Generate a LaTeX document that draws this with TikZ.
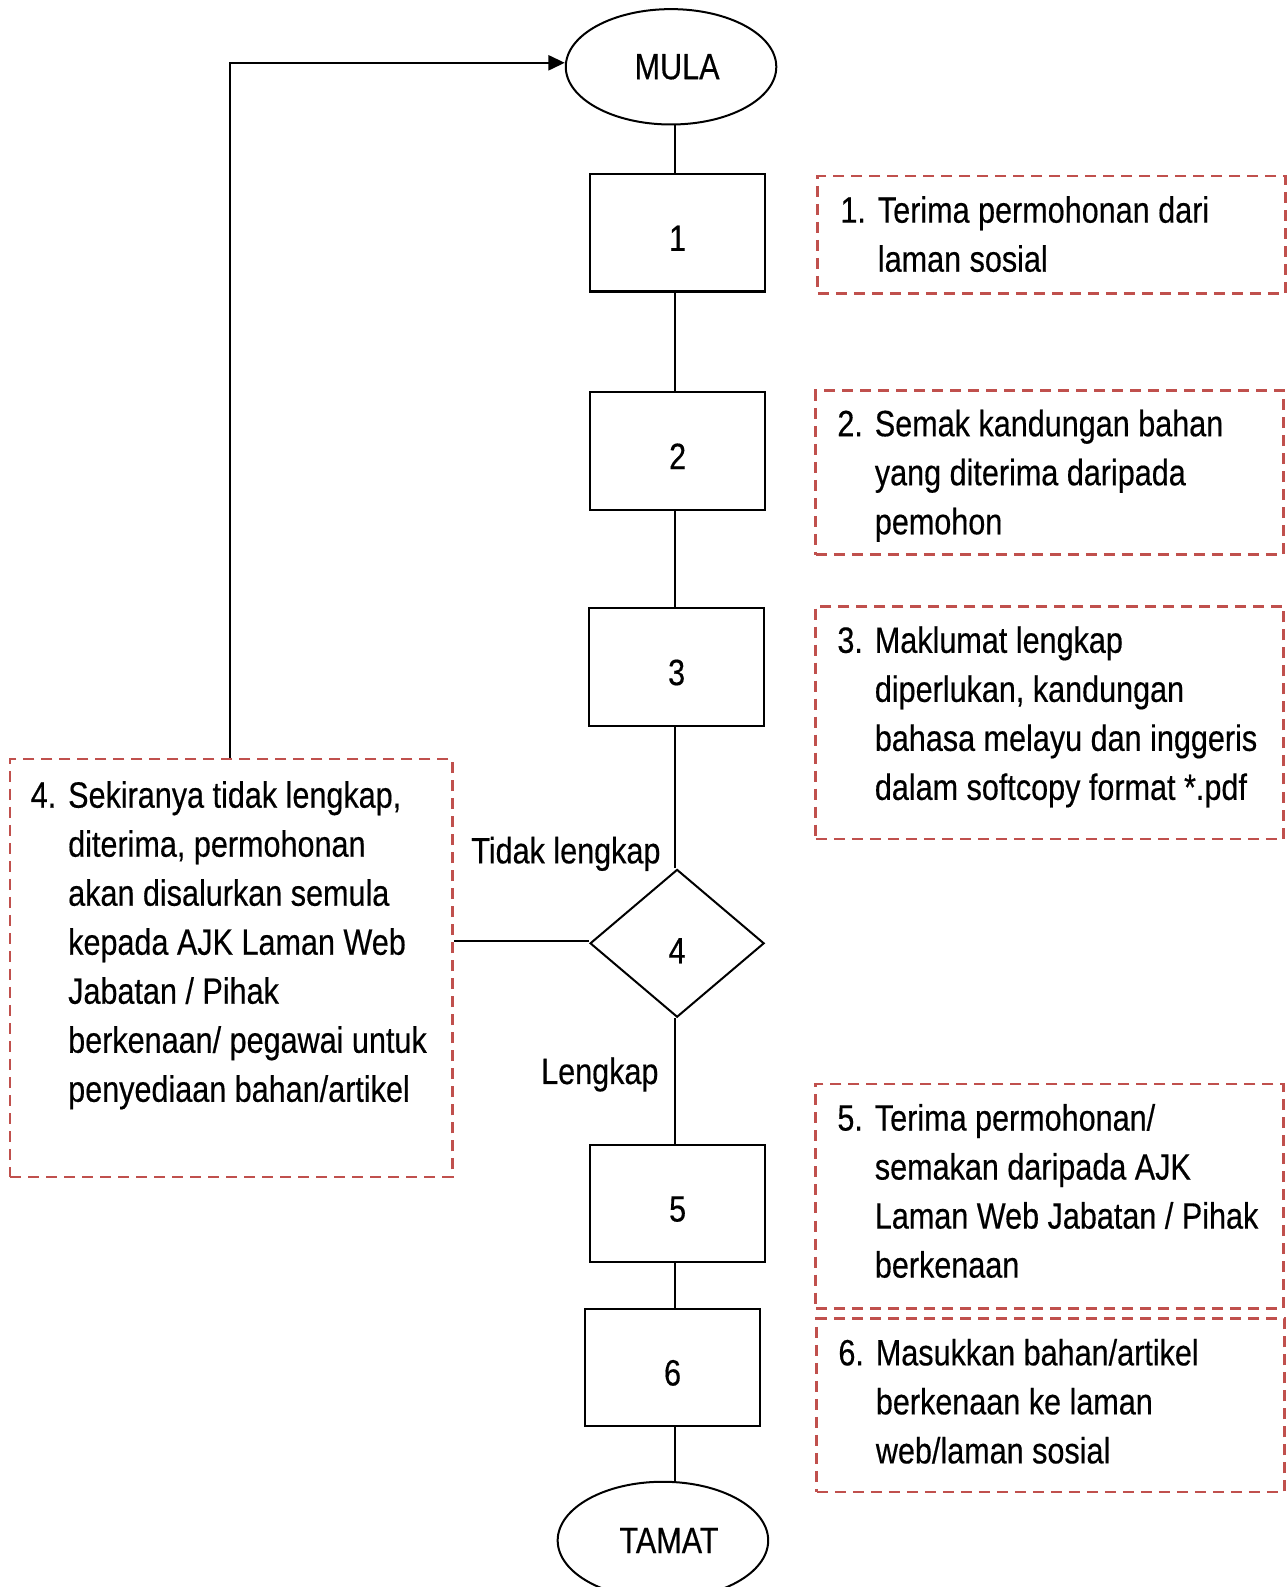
\documentclass[tikz,border=0pt]{standalone}
\usepackage{fontspec}
\setmainfont[FakeStretch=0.835,FakeBold=0.4]{Liberation Sans}
\usetikzlibrary{shapes.geometric,arrows.meta,calc}
\definecolor{dashred}{RGB}{192,80,77}
\newlength\pxu
\setlength\pxu{0.5059pt}
\newcommand\numlbl[1]{\makebox[37\pxu][l]{#1}}
\begin{document}
\begin{tikzpicture}[x=0.5059pt,y=-0.5059pt,
  every node/.style={font=\fontsize{18.3}{24.5}\selectfont},
  proc/.style={draw, line width=1.1pt, minimum width=173*0.5059pt, minimum height=116*0.5059pt, inner sep=0, text height=18.1pt, text depth=0pt},
  term/.style={ellipse, draw, line width=1pt, inner sep=0, minimum width=208*0.5059pt, minimum height=114*0.5059pt},
  decision/.style={diamond, draw, line width=1pt, inner sep=0, minimum width=172*0.5059pt, minimum height=146*0.5059pt, text height=20pt, text depth=0pt},
  notebox/.style={draw=dashred, line width=1.35pt, dash pattern=on 5.5pt off 3.5pt, inner sep=0},
  notetext/.style={anchor=base west, inner sep=0},
  link/.style={line width=1pt},
  ]
\useasboundingbox (0,0) rectangle (1272,1568);

% flow nodes
\node[term] (mula) at (663,66) {\hspace*{12\pxu}MULA};
\node[proc] (b1) at (669.5,230) {1};
\node[proc] (b2) at (669.5,445.5) {2};
\node[proc] (b3) at (668.5,659) {3};
\node[decision] (d4) at (669,932) {4};
\node[proc] (b5) at (669.5,1189) {5};
\node[proc] (b6) at (664.5,1351) {6};
\node[term, minimum height=116*0.5059pt] (tamat) at (655,1522) {\hspace*{12\pxu}TAMAT};

% note boxes
\node[notebox, minimum width=462*0.5059pt, minimum height=116*0.5059pt] (n1) at (1039,232) {};
\node[notebox, minimum width=462*0.5059pt, minimum height=162*0.5059pt] (n2) at (1037,467) {};
\node[notebox, minimum width=462*0.5059pt, minimum height=230*0.5059pt] (n3) at (1037,714) {};
\node[notebox, minimum width=437*0.5059pt, minimum height=413*0.5059pt] (n4) at (228.5,956.5) {};
\node[notebox, minimum width=462*0.5059pt, minimum height=222*0.5059pt] (n5) at (1037,1182) {};
\node[notebox, minimum width=462*0.5059pt, minimum height=171*0.5059pt] (n6) at (1038,1388.5) {};

% note texts
\node[notetext] (t1) at (830,220) {\begin{tabular}[t]{@{}l@{}}
\numlbl{1.}Terima permohonan dari\\
\numlbl{}laman sosial\end{tabular}};
\node[notetext] (t2) at (827,431) {\begin{tabular}[t]{@{}l@{}}
\numlbl{2.}Semak kandungan bahan\\
\numlbl{}yang diterima daripada\\
\numlbl{}pemohon\end{tabular}};
\node[notetext] (t3) at (827,645) {\begin{tabular}[t]{@{}l@{}}
\numlbl{3.}Maklumat lengkap\\
\numlbl{}diperlukan, kandungan\\
\numlbl{}bahasa melayu dan inggeris\\
\numlbl{}dalam softcopy format *.pdf\end{tabular}};
\node[notetext] (t4) at (30,798) {\begin{tabular}[t]{@{}l@{}}
\numlbl{4.}Sekiranya tidak lengkap,\\
\numlbl{}diterima, permohonan\\
\numlbl{}akan disalurkan semula\\
\numlbl{}kepada AJK Laman Web\\
\numlbl{}Jabatan / Pihak\\
\numlbl{}berkenaan/ pegawai untuk\\
\numlbl{}penyediaan bahan/artikel\end{tabular}};
\node[notetext] (t5) at (827,1117) {\begin{tabular}[t]{@{}l@{}}
\numlbl{5.}Terima permohonan/\\
\numlbl{}semakan daripada AJK\\
\numlbl{}Laman Web Jabatan / Pihak\\
\numlbl{}berkenaan\end{tabular}};
\node[notetext] (t6) at (828,1349) {\begin{tabular}[t]{@{}l@{}}
\numlbl{6.}Masukkan bahan/artikel\\
\numlbl{}berkenaan ke laman\\
\numlbl{}web/laman sosial\end{tabular}};

% labels
\node[anchor=base east, inner sep=0] (lbl1) at (653,853) {Tidak lengkap};
\node[anchor=base east, inner sep=0] (lbl2) at (651,1071) {Lengkap};

% connectors
\coordinate (spine) at (667,0);
\coordinate (loopx) at (227,0);
\draw[link] (mula.south -| spine) -- (b1.north -| spine);
\draw[link] (b1.south -| spine) -- (b2.north -| spine);
\draw[link] (b2.south -| spine) -- (b3.north -| spine);
\draw[link] (b3.south -| spine) -- (d4.north -| spine);
\draw[link] (d4.south -| spine) -- (b5.north -| spine);
\draw[link] (b5.south -| spine) -- (b6.north -| spine);
\draw[link] (b6.south -| spine) -- (tamat.north -| spine);
\draw[link] ([yshift=1pt]d4.west) -- ([yshift=1pt]d4.west -| n4.east);
\draw[line width=1.2pt, -{Triangle[length=8.2pt,width=7.5pt]}] (n4.north -| loopx) |- ([yshift=2pt]mula.west);
\end{tikzpicture}
\end{document}
